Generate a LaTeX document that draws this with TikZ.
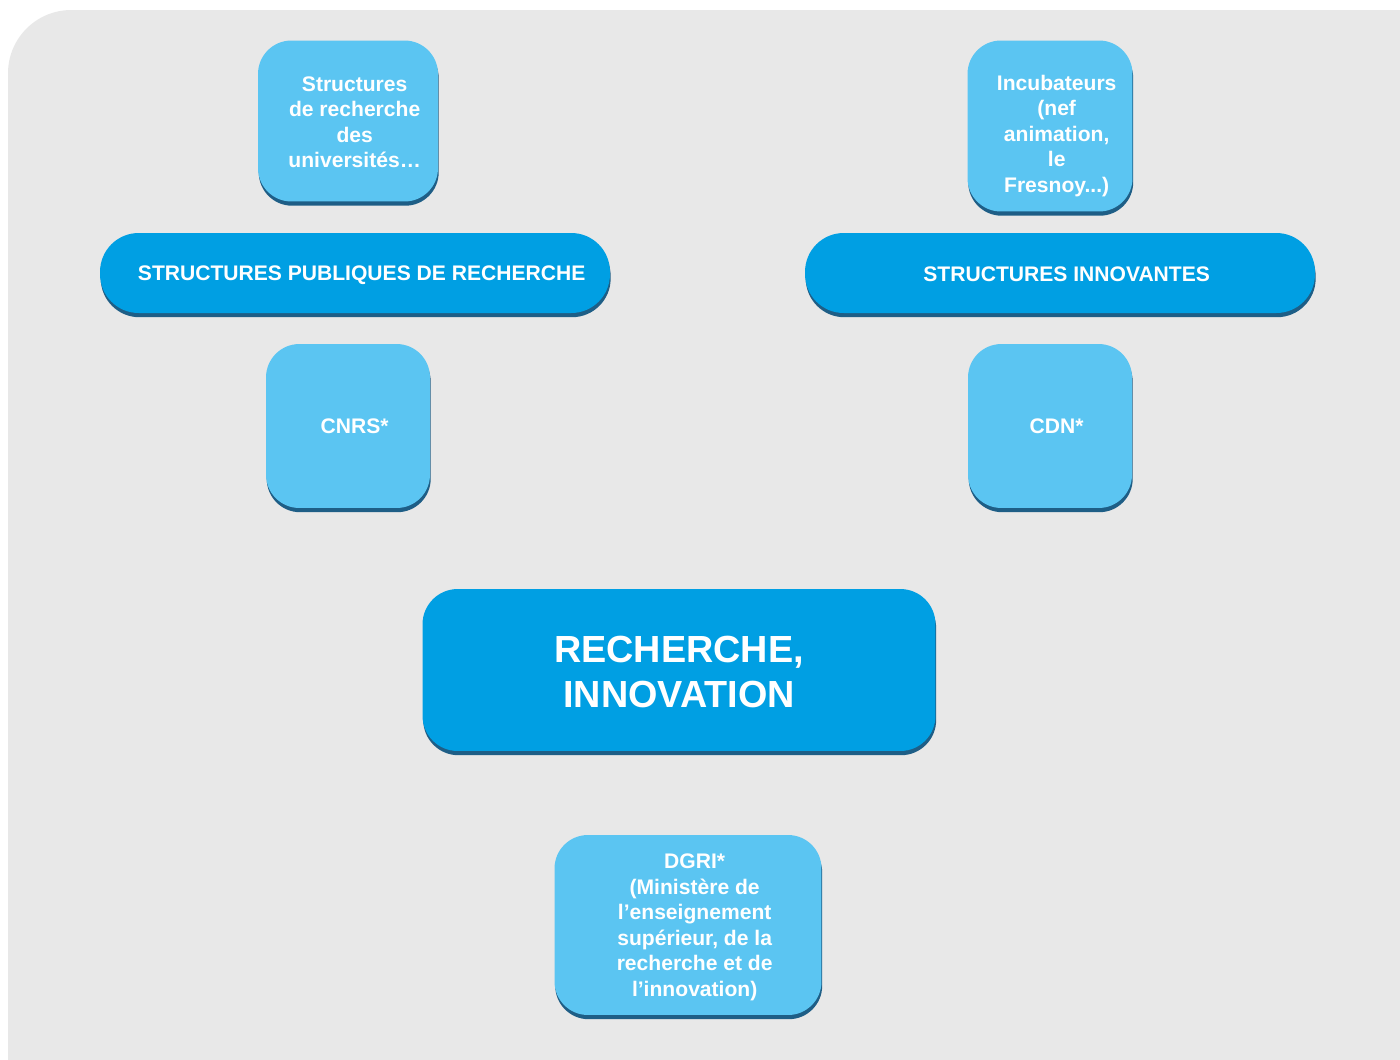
\documentclass[tikz,border=0pt]{standalone}
\usepackage{fontspec}
\setmainfont{Liberation Sans}
\usetikzlibrary{positioning,shadows}
\definecolor{panelgrey}{HTML}{E8E8E8}
\definecolor{lightblue}{HTML}{5BC5F2}
\definecolor{deepblue}{HTML}{009FE3}
\definecolor{edgeblue}{HTML}{1E5E86}
\tikzset{%
   box/.style={rounded corners=19pt, fill=lightblue, inner sep=0pt,
      general shadow={fill=edgeblue, shadow yshift=-2.4pt, shadow xshift=0.4pt}},
   boxtext/.style={text=white, align=center, inner sep=0pt, xshift=3.8pt,
      font=\bfseries\fontsize{12}{14.5}\selectfont},
   pill/.style={box, fill=deepblue, rounded corners=22pt, minimum width=10.2cm, minimum height=1.6cm},
   square/.style={box, minimum width=3.28cm, minimum height=3.28cm},
}

\begin{document}
\begin{tikzpicture}[x=0.02cm, y=-0.02cm]
   \useasboundingbox (0,0) rectangle (1400,1059);
   \fill[panelgrey, rounded corners=36pt] (8,10) rectangle (1460,1120);
   % les deux familles
   \node[pill, label={[boxtext, yshift=-1.2pt]center:STRUCTURES PUBLIQUES DE RECHERCHE}]
      (publiques) at (355,273) {};
   \node[pill, label={[boxtext, yshift=-0.6pt]center:STRUCTURES INNOVANTES}]
      (innovantes) at (1060,273) {};
   \node[box, minimum width=3.6cm, minimum height=3.22cm,
      label={[boxtext, yshift=-0.8pt]center:{Structures\\de recherche\\des\\universités…}}]
      (univ) at (348,121) {};
   \node[box, minimum width=3.3cm, minimum height=3.42cm,
      label={[boxtext, yshift=-5.6pt]center:{Incubateurs\\(nef\\animation,\\le\\Fresnoy...)}}]
      (incub) at (1050,126) {};
   \node[square, label={[boxtext]center:CNRS*}] (cnrs) at (348,426) {};
   \node[square, label={[boxtext]center:CDN*}] (cdn) at (1050,426) {};
   % centre
   \node[box, fill=deepblue, rounded corners=20pt, minimum width=10.26cm, minimum height=3.24cm,
      label={[boxtext, xshift=-3.8pt, yshift=-1pt, font=\bfseries\fontsize{21.5}{25.5}\selectfont]center:{RECHERCHE,\\INNOVATION}}]
      (recherche) at (679,670) {};
   \node[box, minimum width=5.34cm, minimum height=3.6cm,
      label={[boxtext, yshift=-1.4pt]center:{DGRI*\\(Ministère de\\l’enseignement\\supérieur, de la\\recherche et de\\l’innovation)}}]
      (dgri) at (688,925) {};
\end{tikzpicture}
\end{document}
